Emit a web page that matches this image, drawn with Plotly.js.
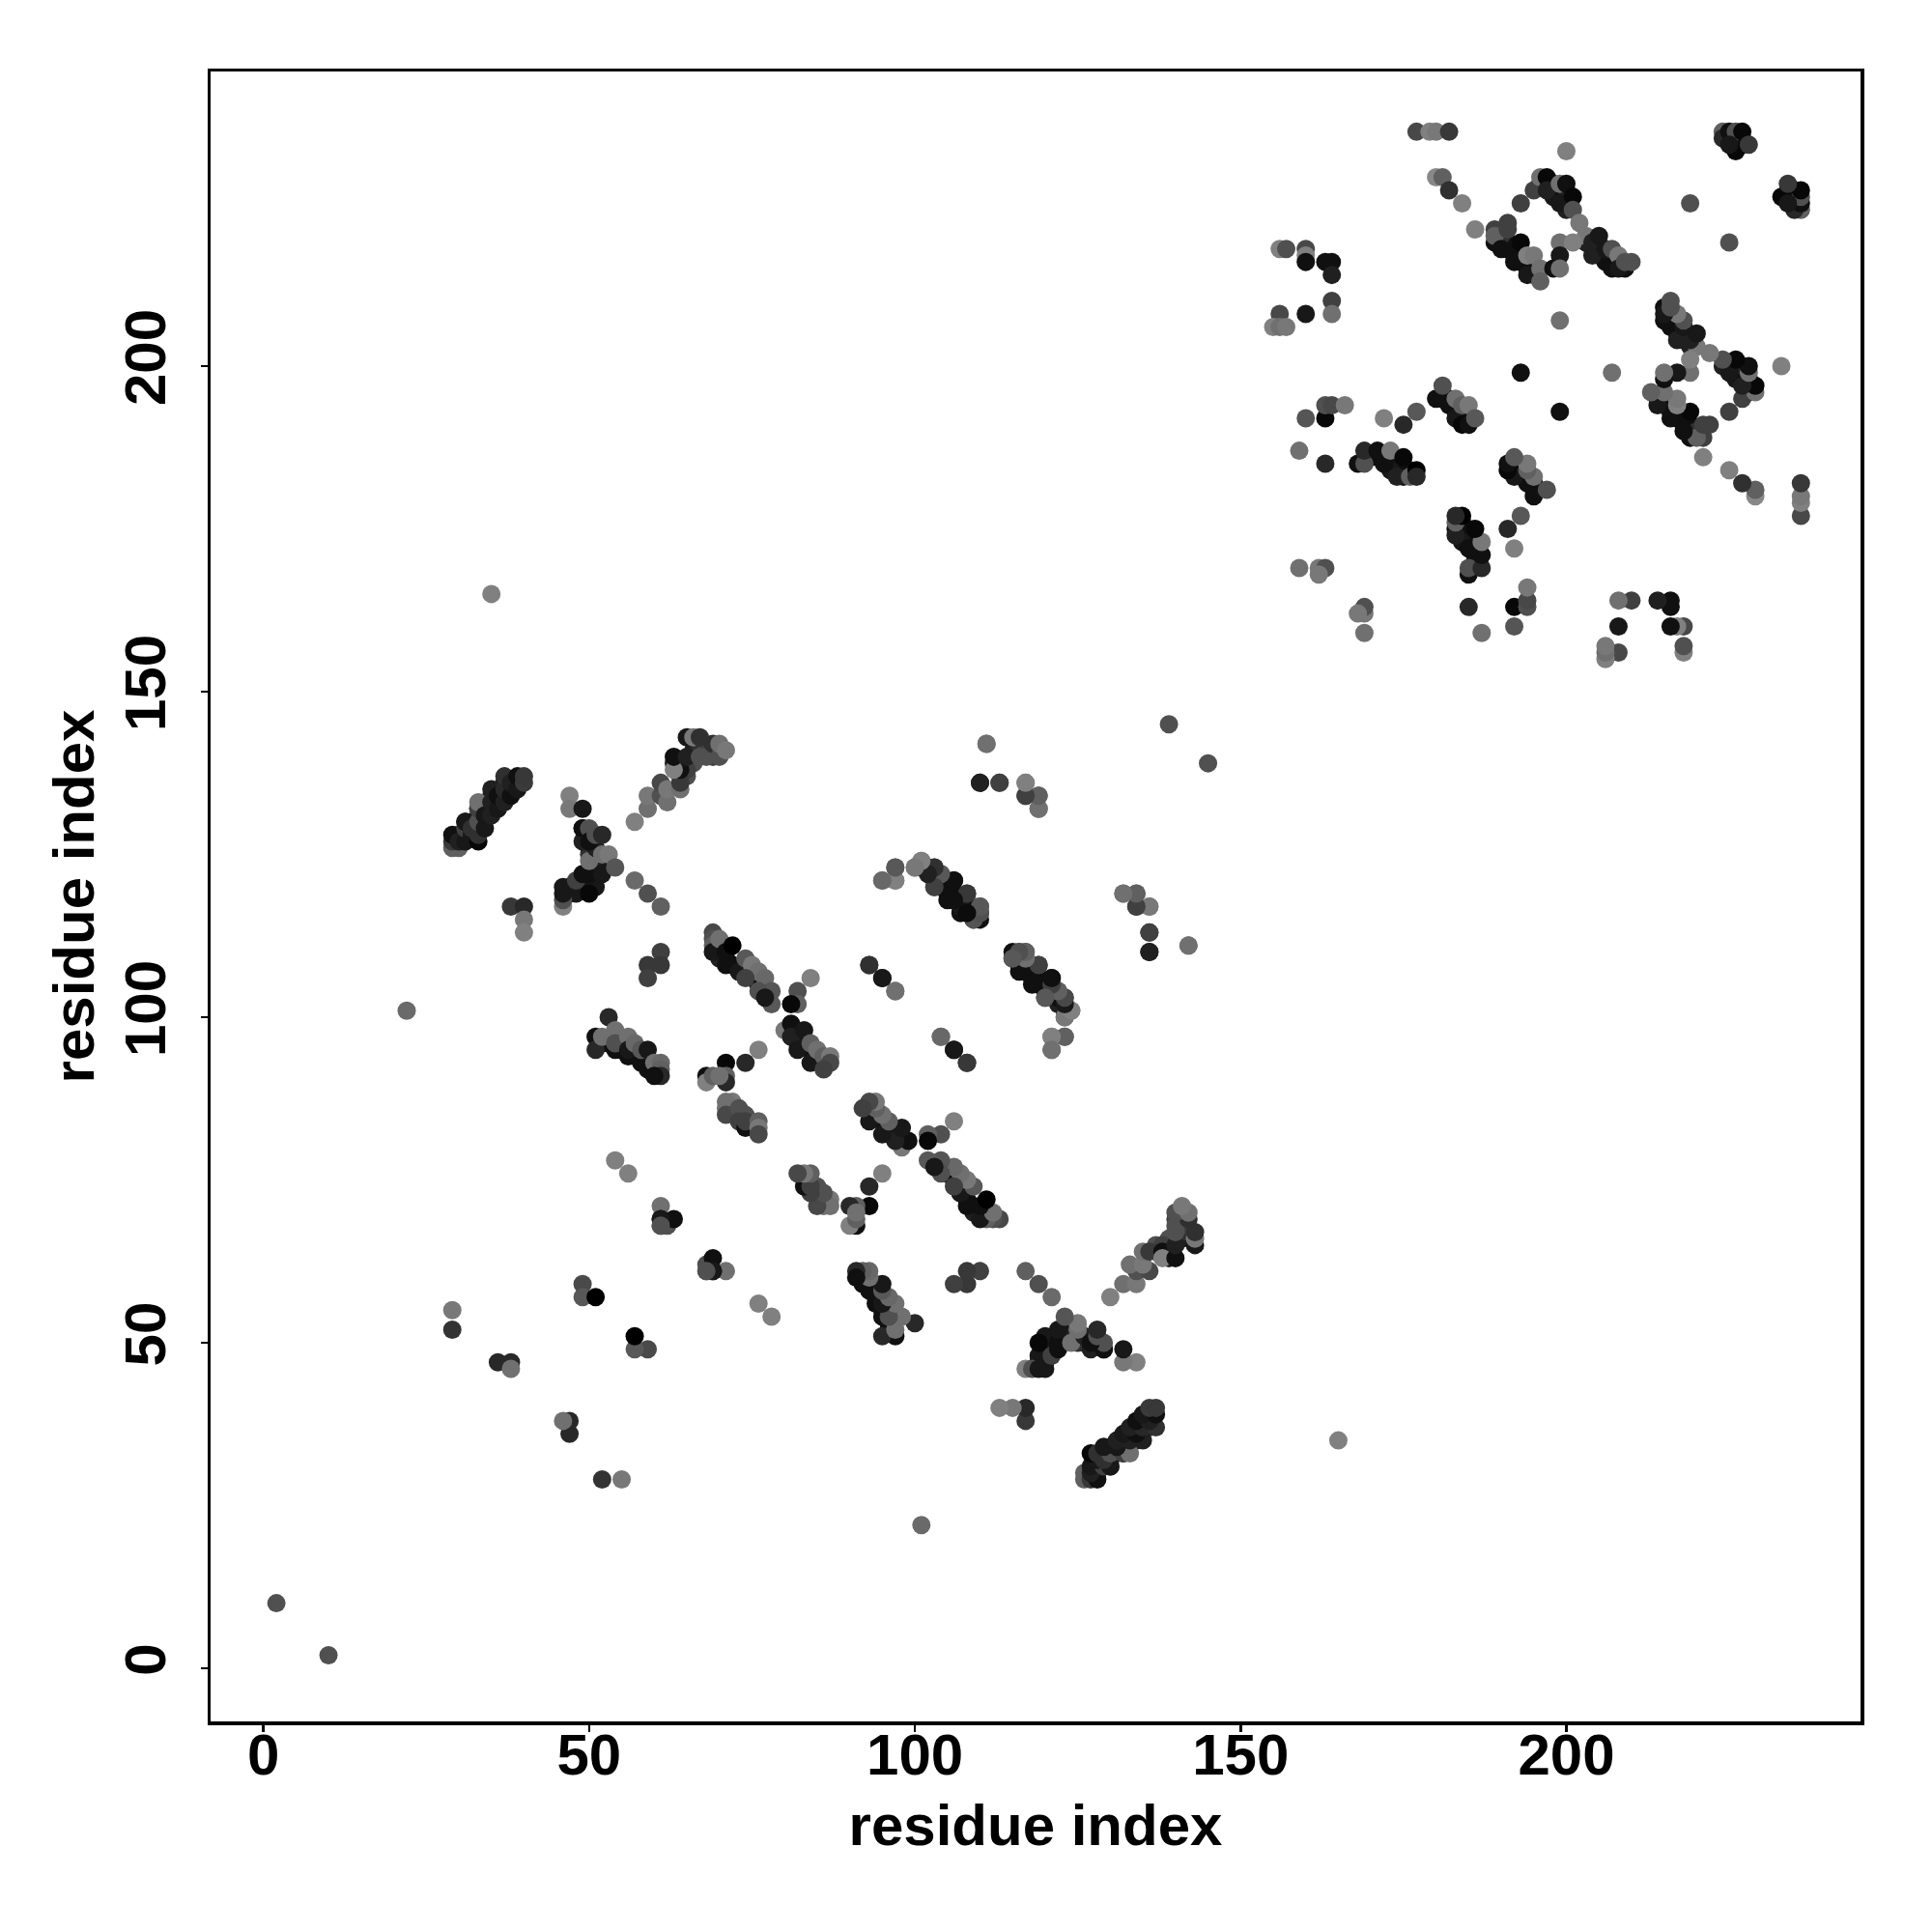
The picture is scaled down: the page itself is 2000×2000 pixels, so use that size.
<!DOCTYPE html>
<html><head><meta charset="utf-8"><script src="https://cdn.plot.ly/plotly-3.0.1.min.js"></script>
<style>html,body{margin:0;padding:0;background:#fff}</style></head><body><div id="c" style="width:2000px;height:2000px"></div>
<script>
// residue i, residue j (i<j; the map is symmetric), contact shade 0 (strong) .. 140 (weak)
// contacts hidden under the lighter dots of the dense bands, drawn first
const bandI = [30,32,34,36,38,31,33,35,37,
 47,48,49,47,48,51,51,50,50,52,51,50,50,49,50,
 70,71,72,73,74,75,76,77,70,
 52,53,54,55,56,57,59,60,
 81,82,83,84,85,86,82,
 103,104,105,106,107,108,109,110,104,
 116,117,118,119,120,121,122,123,123,117,
 189,190,191,191,192,193,193,194,195,195,190,
 205,205,206,206,207,208,209,204,203,
 196,197,198,198,198,199,199,200,200,200,200,
 181,182,182,183,183,184,184,185,183,
 170,171,172,173,174,174,175,175,176,173,
 226,226,225,227,227,
 63,64,64,64,65,66,66,67,68,69,68,69,65,65];
const bandJ = [128,130,132,134,136,130,132,134,136,
 119,120,120,120,119,120,122,121,122,123,124,126,125,127,128,
 110,109,108,107,107,106,105,104,109,
 96,96,95,95,94,94,92,92,
 98,97,96,95,94,93,96,
 122,120,119,118,118,117,116,115,121,
 109,108,107,106,105,104,103,101,102,107,
 219,219,219,218,217,217,216,215,215,214,220,
 218,217,217,216,216,216,215,218,219,
 228,228,228,227,226,227,226,226,225,227,224,
 195,195,194,194,193,193,192,192,192,
 186,186,186,185,185,184,184,183,184,184,
 235,234,235,234,235,
 139,139,137,138,139,141,139,141,141,140,140,142,137,138];
const bandShade = [24,16,24,16,24,32,32,24,24,
 16,16,16,24,24,24,24,24,16,24,32,32,48,32,40,
 16,16,16,16,16,16,16,16,32,
 16,16,16,16,16,16,16,16,
 16,16,16,16,16,16,24,
 16,16,16,16,16,16,16,16,24,
 16,16,16,16,16,16,16,16,16,24,
 16,16,16,16,16,16,16,16,16,16,48,
 16,16,16,16,16,16,16,24,32,
 32,16,16,16,24,24,16,16,24,32,32,
 16,16,16,16,16,16,16,16,24,
 16,16,16,16,16,16,16,16,16,24,
 16,16,24,16,16,
 32,32,48,48,32,32,80,48,64,64,80,48,80,64];
const residueI = [
 2,22,35,29,29,36,38,38,
 49,49,51,61,61,62,61,63,61,61,54,56,
 29,30,29,29,30,31,31,31,32,32,33,33,33,33,33,34,34,35,35,35,36,36,37,37,37,38,38,39,39,40,40,
 38,40,40,40,
 46,46,46,46,47,47,48,49,49,50,50,51,52,52,53,54,49,49,50,50,51,52,
 57,59,59,61,61,62,62,64,64,64,63,63,65,67,65,66,67,70,70,71,
 57,59,61,59,59,61,61,
 69,69,69,69,70,71,72,71,73,74,75,76,77,78,78,76,74,77,82,82,81,84,
 53,51,51,52,54,54,56,56,57,58,58,59,60,61,61,61,60,
 68,68,71,71,71,74,76,69,70,72,71,71,71,73,74,73,74,74,76,76,76,
 80,81,81,82,83,84,84,85,86,87,87,86,
 139,111,110,113,117,117,119,119,
 97,97,95,100,101,102,103,104,105,106,103,105,107,108,109,110,110,109,
 132,134,134,136,136,136,142,93,95,97,104,106,108,121,123,121,
 115,116,117,116,119,118,121,122,120,123,122,124,123,
 177,179,180,182,180,181,182,184,186,189,189,191,191,190,193,192,194,194,195,196,196,193,195,196,197,197,199,200,200,199,201,201,202,203,199,201,199,198,199,
 204,204,205,206,207,207,208,208,209,210,219,224,224,225,226,227,226,228,225,199,193,
 156,157,160,160,160,163,164,164,164,164,160,156,155,156,157,
 160,163,163,164,166,172,175,177,159,163,168,169,169,171,172,173,175,174,176,177,177,159,162,163,162,
 180,181,183,184,185,184,185,186
];
const residueJ = [
 10,101,165,52,55,47,47,46,
 59,57,57,71,69,68,68,69,69,68,78,76,
 126,126,127,128,127,127,129,130,128,129,127,128,130,132,133,129,131,131,133,135,132,134,133,135,137,134,136,135,137,136,137,
 117,117,115,113,
 117,118,119,120,134,132,121,122,132,119,124,126,122,125,125,123,129,129,129,127,128,128,
 130,132,134,134,136,133,135,135,136,138,138,140,140,140,143,143,143,140,142,141,
 121,119,117,108,106,110,108,
 113,112,111,110,112,110,111,108,107,109,108,107,106,104,102,104,106,103,104,102,102,106,
 100,97,95,97,98,96,97,95,96,93,95,95,93,93,92,91,91,
 91,90,93,91,90,93,95,91,91,87,87,86,85,86,85,84,83,84,84,83,82,
 98,99,97,95,98,96,93,95,94,94,93,92,
 145,142,136,136,136,134,134,132,
 123,121,121,123,124,123,123,122,121,121,120,118,116,119,117,117,116,115,
 119,119,117,117,113,110,111,108,106,104,97,95,93,97,97,95,
 109,110,110,108,108,106,106,104,103,103,102,101,100,
 236,236,236,236,229,229,227,225,221,221,220,222,221,218,219,216,214,217,217,215,213,225,227,229,229,227,228,228,233,225,226,224,222,220,219,219,217,215,215,
 217,219,220,218,218,215,217,215,216,216,225,236,235,236,236,236,233,234,234,207,199,
 218,218,218,217,216,216,216,214,210,208,208,208,206,206,206,
 192,192,194,194,194,192,191,193,187,185,185,185,187,187,185,187,186,183,183,184,183,169,169,169,168,
 195,197,195,194,194,191,191,192
];
const shade = [
 80,106,128,51,120,40,40,112,
 74,88,0,112,24,80,96,16,24,80,128,128,
 96,96,56,16,32,24,64,24,24,48,8,48,80,64,112,24,24,32,32,32,24,16,32,40,48,16,32,24,16,58,56,
 56,40,120,128,
 128,80,24,24,128,120,64,16,24,8,112,32,24,112,120,85,32,16,80,16,80,40,
 128,112,120,80,72,112,120,112,56,16,128,16,32,80,24,120,48,80,112,120,
 106,80,96,56,64,64,56,
 72,80,96,24,112,16,0,16,24,88,120,112,104,85,88,80,64,24,80,96,8,128,
 40,16,40,112,112,80,112,24,104,16,88,24,112,104,96,40,16,
 16,128,8,96,40,40,128,96,112,120,112,112,72,80,80,64,16,64,96,120,72,
 120,16,32,24,24,96,24,112,96,120,72,64,
 80,112,32,64,120,64,96,112,
 96,128,112,120,128,24,72,96,64,16,88,16,16,64,112,96,80,88,
 112,96,64,128,64,32,112,56,24,104,112,24,48,128,88,104,
 85,80,88,12,56,16,16,88,64,48,32,128,120,
 72,128,120,56,136,96,48,128,128,64,96,64,64,16,8,16,24,128,120,112,96,64,64,112,8,32,112,16,128,24,8,80,120,120,112,128,24,16,112,
 32,32,24,24,80,16,120,24,80,80,80,96,40,16,80,8,8,56,24,112,16,
 128,80,72,128,16,16,16,32,64,112,24,72,128,112,120,
 85,8,80,72,120,128,40,88,112,40,16,80,40,16,16,120,8,32,96,0,40,112,120,80,120,
 16,80,112,96,120,8,16,88
];
const xTicks = [0,50,100,150,200];
const yTicks = [0,50,100,150,200];
const axisTitle = 'residue index';

const allI = bandI.concat(residueI), allJ = bandJ.concat(residueJ), allShade = bandShade.concat(shade);
const colors = allShade.map(v => `rgb(${v},${v},${v})`);
const font = 'Liberation Sans, Arial, Helvetica, sans-serif';
const common = {
  ticks:'outside', ticklen:7, tickwidth:2.5, tickcolor:'#000', showline:true, linecolor:'#000', linewidth:3.5,
  mirror:true, showgrid:false, zeroline:false,
  tickfont:{family:font,size:60,weight:700,color:'#000'}
};
Plotly.newPlot('c',[
  {type:'scatter',mode:'markers',x:allI,y:allJ,marker:{size:19,color:colors,line:{width:0}},hoverinfo:'skip'},
  {type:'scatter',mode:'markers',x:allJ,y:allI,marker:{size:19,color:colors,line:{width:0}},hoverinfo:'skip'}
],{
  width:2000,height:2000,showlegend:false,paper_bgcolor:'#fff',plot_bgcolor:'#fff',
  margin:{l:218,r:74,t:74,b:218,pad:0},
  xaxis:Object.assign({},common,{range:[-8.1,245.15],tickvals:xTicks,ticktext:xTicks.map(String),ticklabelstandoff:-28,
    title:{text:axisTitle,standoff:20,font:{family:font,size:60,weight:700,color:'#000'}}}),
  yaxis:Object.assign({},common,{range:[-8.16,245.25],tickvals:yTicks,ticktext:yTicks.map(String),tickangle:-90,ticklabelstandoff:13,
    title:{text:axisTitle,standoff:0,font:{family:font,size:60,weight:700,color:'#000'}}})
},{staticPlot:true,displayModeBar:false});
</script></body></html>
